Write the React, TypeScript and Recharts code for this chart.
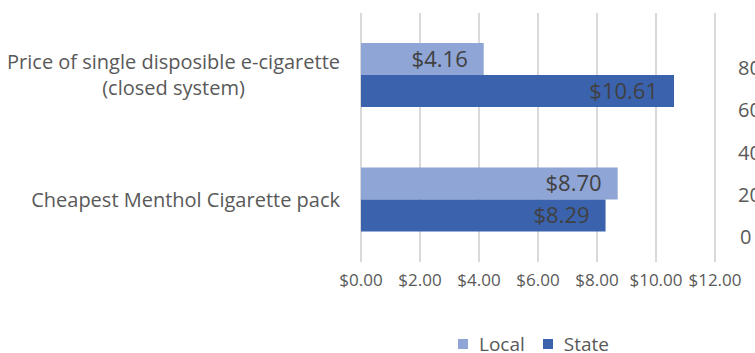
import { BarChart, Bar, XAxis, YAxis, CartesianGrid, Legend, LabelList } from "recharts";

const categories = ["Price of single disposible e-cigarette\n(closed system)", "Cheapest Menthol Cigarette pack"];
const localPrices = [4.16, 8.7];
const statePrices = [10.61, 8.29];
const priceTicks = [0, 2, 4, 6, 8, 10, 12];
// tick labels of the neighbouring chart that is cut off at the right edge
const sideTicks = ["80", "60", "40", "20", "0"];

const data = categories.map((name, i) => ({ name, Local: localPrices[i], State: statePrices[i] }));

const FONT = "'Open Sans', sans-serif";
const GREY = "#595959";
const LOCAL_COLOR = "#8FA5D6";
const STATE_COLOR = "#3B63AD";

const money = (v: number) => `$${Number(v).toFixed(2)}`;

let ctx: CanvasRenderingContext2D | null = null;
function textWidth(s: string, size: number) {
  if (!ctx) ctx = document.createElement("canvas").getContext("2d");
  if (!ctx) return s.length * size * 0.5;
  ctx.font = `${size}px ${FONT}`;
  return ctx.measureText(s).width;
}

function CategoryTick(props: any) {
  const { x, y, payload } = props;
  const size = 20;
  const lines = String(payload.value).split("\n");
  const w = Math.max(...lines.map((l) => textWidth(l, size)));
  const cx = x - w / 2;
  return (
    <g>
      {lines.map((l, i) => (
        <text
          key={i}
          x={cx}
          y={y + (i - (lines.length - 1) / 2) * 26}
          dy="0.35em"
          textAnchor="middle"
          fill={GREY}
          fontSize={size}
          fontFamily={FONT}
        >
          {l}
        </text>
      ))}
    </g>
  );
}

function LegendContent(props: any) {
  const items = props.payload || [];
  return (
    <div style={{ display: "flex", alignItems: "center", height: 18, fontFamily: FONT, fontSize: 19, color: GREY }}>
      {items.map((it: any, i: number) => (
        <div key={i} style={{ display: "flex", alignItems: "center", marginRight: 18 }}>
          <span style={{ width: 10, height: 10, background: it.color, display: "inline-block", marginRight: 11 }} />
          <span style={{ lineHeight: "18px" }}>{it.value}</span>
        </div>
      ))}
    </div>
  );
}

export default function App() {
  return (
    <div style={{ position: "absolute", left: 0, top: 0, width: 755, height: 353, overflow: "hidden", background: "#fff" }}>
      <BarChart
        width={755}
        height={353}
        data={data}
        layout="vertical"
        barSize={32}
        barGap={0}
        margin={{ top: 13, right: 40, left: 0, bottom: 43 }}
      >
        <CartesianGrid horizontal={false} stroke="#d9d9d9" strokeWidth={2} />
        <XAxis
          type="number"
          domain={[0, 12]}
          ticks={priceTicks}
          tickFormatter={money}
          axisLine={false}
          tickLine={false}
          tickSize={0}
          tickMargin={12}
          height={30}
          interval={0}
          tick={{ fill: GREY, fontSize: 17, fontFamily: FONT }}
        />
        <YAxis
          type="category"
          dataKey="name"
          width={361}
          axisLine={false}
          tickLine={false}
          tickSize={0}
          tickMargin={21}
          tick={<CategoryTick />}
        />
        <Legend
          verticalAlign="bottom"
          height={18}
          content={<LegendContent />}
          wrapperStyle={{ left: 458, top: 335, width: 220, height: 18, bottom: "auto" }}
        />
        <Bar dataKey="Local" fill={LOCAL_COLOR} isAnimationActive={false}>
          <LabelList
            dataKey="Local"
            position="insideRight"
            offset={16}
            formatter={money}
            fill="#404040"
            fontSize={22}
            fontFamily={FONT}
          />
        </Bar>
        <Bar dataKey="State" fill={STATE_COLOR} isAnimationActive={false}>
          <LabelList
            dataKey="State"
            position="insideRight"
            offset={16}
            formatter={money}
            fill="#404040"
            fontSize={22}
            fontFamily={FONT}
          />
        </Bar>
      </BarChart>
      {sideTicks.map((t, i) => (
        <div
          key={t}
          style={{
            position: "absolute",
            left: t === "0" ? 740 : 738,
            top: 68 + i * 42.25 - 14,
            height: 28,
            lineHeight: "28px",
            fontFamily: FONT,
            fontSize: 20,
            color: GREY,
            whiteSpace: "nowrap",
          }}
        >
          {t}
        </div>
      ))}
    </div>
  );
}
